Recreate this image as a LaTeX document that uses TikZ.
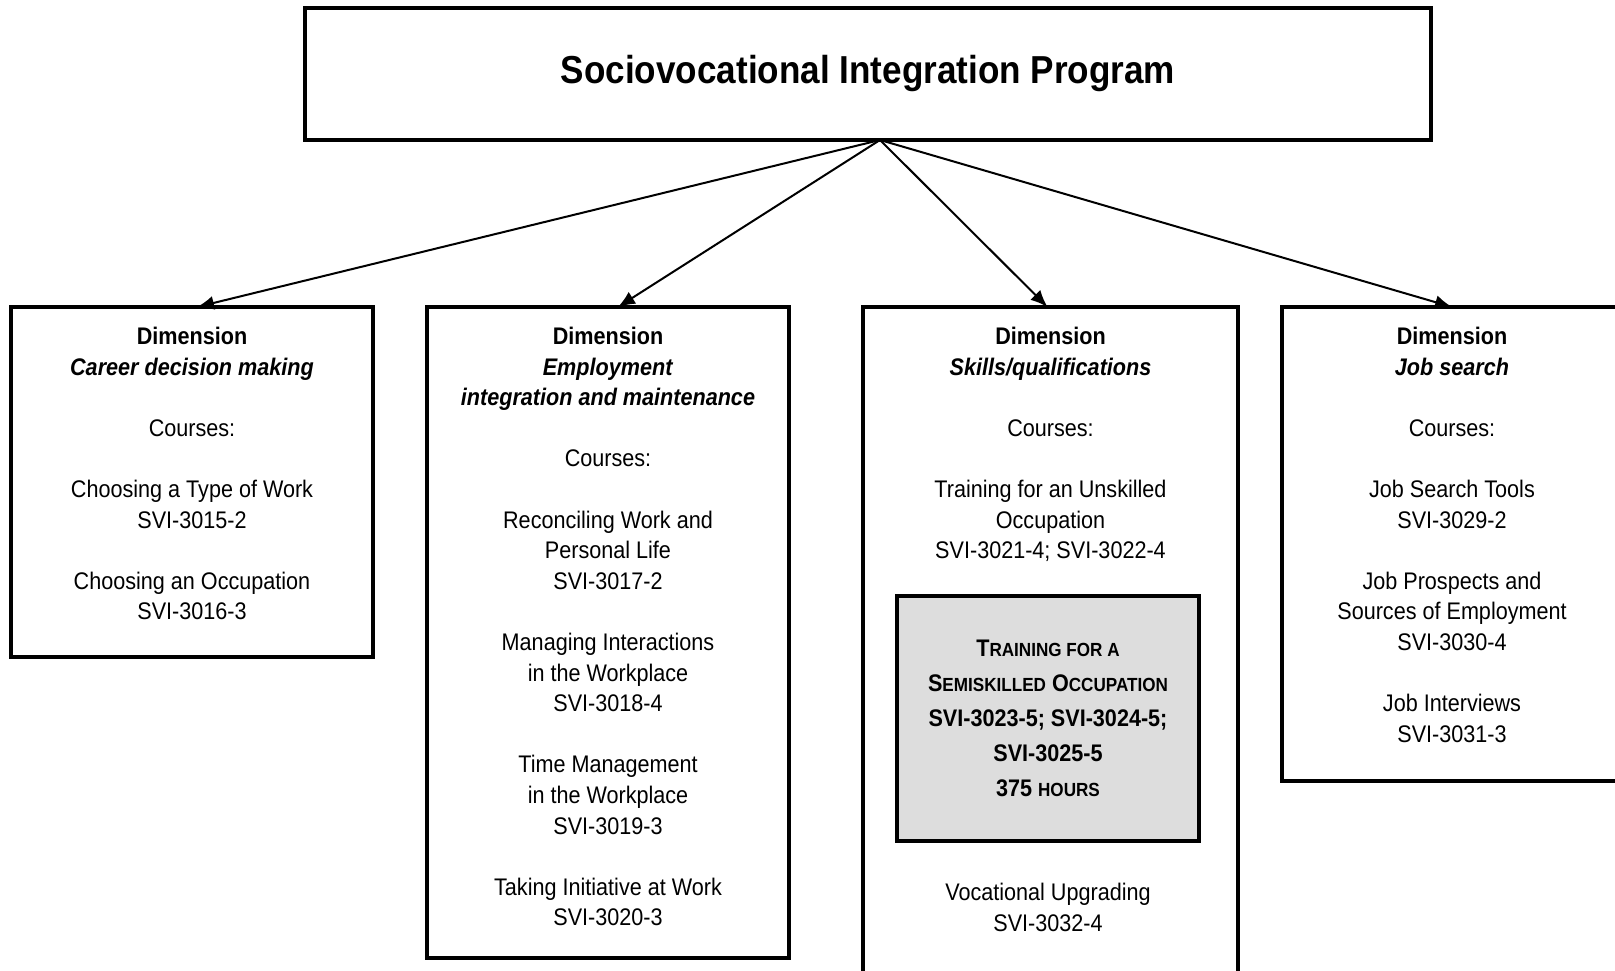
\documentclass[tikz,border=0pt]{standalone}
\usepackage{fontspec}
\setmainfont{Liberation Sans}[FakeStretch=0.9]
\usetikzlibrary{arrows.meta,positioning}
\def\gap{30.6pt}
\def\textdrop{20pt}
\newcommand\smcap[1]{{\fontsize{19}{35}\selectfont #1}}
\tikzset{
  dimbox/.style n args={2}{
    rectangle, draw,
    line width=4pt,
    inner sep=0pt,
    outer sep=0pt,
    anchor=north west,
    minimum width=#1,
    minimum height=#2,
  },
  dimtext/.style={
    align=center,
    inner sep=0pt,
    anchor=north,
    font=\fontsize{24}{30.6}\selectfont
  },
  progbox/.style={
    rectangle, draw,
    line width=3.5pt,
    inner sep=0pt,
    outer sep=0pt,
    minimum width=1126pt,
    minimum height=132pt,
    font=\bfseries\fontsize{39}{46}\selectfont
  },
  skillbox/.style={
    rectangle, draw,
    line width=4pt,
    fill=gray!27,
    inner sep=0pt,
    outer sep=0pt,
    minimum width=302pt,
    minimum height=245pt,
    align=center,
    font=\bfseries\fontsize{24}{35}\selectfont
  },
  branch/.style={line width=2pt, ->},
}

\begin{document}
\begin{tikzpicture}[x=1pt, y=-1pt, >={Latex[length=17pt,width=14pt]}]
    \clip (0,0) rectangle (1615,971);

    %% Program
    \node[progbox] (prog) at (868,74) {Sociovocational Integration Program};
    \coordinate (apex) at ([xshift=12pt]prog.south);

    %% Dimension boxes
    \node[dimbox={362pt}{350pt}] (career) at (11,307) {};
    \node[dimbox={362pt}{651pt}] (employ) at (427,307) {};
    \node[dimbox={375pt}{700pt}] (skills) at (863,307) {};
    \node[dimbox={340pt}{474pt}] (search) at (1282,307) {};

    \node[dimtext, below=\textdrop of career.north] (careertxt) {%
      \textbf{Dimension}\\ \textbf{\textit{Career decision making}}\\[\gap]
      Courses:\\[\gap]
      Choosing a Type of Work\\ SVI-3015-2\\[\gap]
      Choosing an Occupation\\ SVI-3016-3};

    \node[dimtext, below=\textdrop of employ.north] (employtxt) {%
      \textbf{Dimension}\\ \textbf{\textit{Employment}}\\ \textbf{\textit{integration and maintenance}}\\[\gap]
      Courses:\\[\gap]
      Reconciling Work and\\ Personal Life\\ SVI-3017-2\\[\gap]
      Managing Interactions\\ in the Workplace\\ SVI-3018-4\\[\gap]
      Time Management\\ in the Workplace\\ SVI-3019-3\\[\gap]
      Taking Initiative at Work\\ SVI-3020-3};

    \node[dimtext, below=\textdrop of skills.north] (skillstxt) {%
      \textbf{Dimension}\\ \textbf{\textit{Skills/qualifications}}\\[\gap]
      Courses:\\[\gap]
      Training for an Unskilled\\ Occupation\\ SVI-3021-4; SVI-3022-4};

    \node[skillbox] (semi) at (1048,718.5) {%
      T\smcap{RAINING FOR A}\\
      S\smcap{EMISKILLED} O\smcap{CCUPATION}\\
      SVI-3023-5; SVI-3024-5;\\
      SVI-3025-5\\
      375 \smcap{HOURS}};

    \node[dimtext, below=42pt of semi.south] (upgrade) {%
      Vocational Upgrading\\ SVI-3032-4};

    \node[dimtext, below=\textdrop of search.north] (searchtxt) {%
      \textbf{Dimension}\\ \textbf{\textit{Job search}}\\[\gap]
      Courses:\\[\gap]
      Job Search Tools\\ SVI-3029-2\\[\gap]
      Job Prospects and\\ Sources of Employment\\ SVI-3030-4\\[\gap]
      Job Interviews\\ SVI-3031-3};

    %% Branches
    \draw[branch] (apex) -- ([xshift=5pt]career.north);
    \draw[branch] (apex) -- ([xshift=10pt]employ.north);
    \draw[branch] (apex) -- ([xshift=-3pt]skills.north);
    \draw[branch] (apex) -- (search.north);
\end{tikzpicture}
\end{document}
